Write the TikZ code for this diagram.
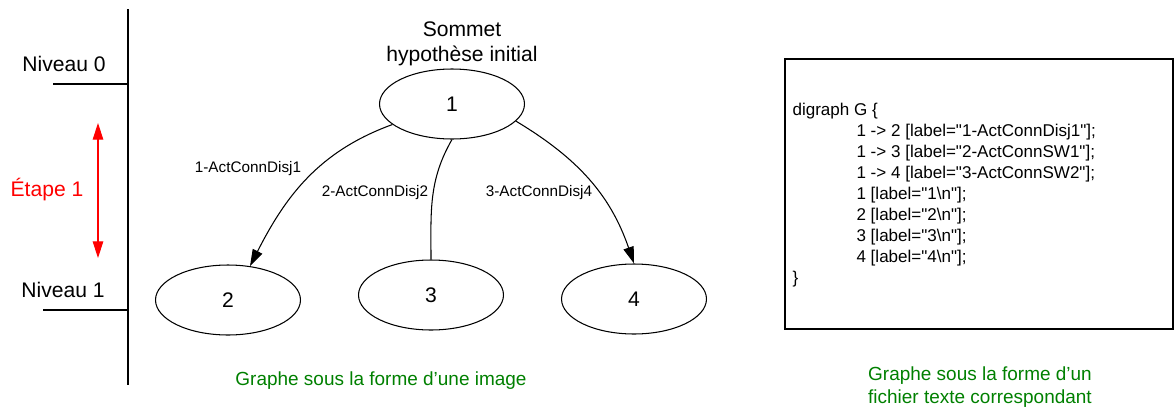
\documentclass[tikz,border=0pt]{standalone}
\usepackage{fontspec}
\setmainfont{Liberation Sans}
\newfontfamily\codefont{Liberation Sans}[Ligatures=TeXOff]
\usepackage{xcolor}
\usetikzlibrary{arrows.meta,shapes.geometric}
\definecolor{EtapeRed}{HTML}{FF0000}
\definecolor{CaptionGreen}{HTML}{008000}

\begin{document}
\begin{tikzpicture}[x=0.02cm,y=0.02cm,line width=0.6pt,
  >={Triangle[length=9.5pt,width=6pt]},
  vertex/.style={draw,ellipse,minimum width=2.9cm,minimum height=1.4cm,inner sep=0pt,
    font=\fontsize{12}{14.4}\selectfont},
  levellabel/.style={font=\fontsize{12}{14.4}\selectfont,inner sep=0pt},
  edgelabel/.style={font=\fontsize{8.7}{10.4}\selectfont,inner sep=0pt},
  codeline/.style={anchor=base west,font=\codefont\fontsize{9.7}{11.6}\selectfont,inner sep=0pt},
  caption/.style={CaptionGreen,align=center,font=\fontsize{10.8}{13}\selectfont,inner sep=0pt}]
  \useasboundingbox (0,0) rectangle (1174,414);
  % niveaux
  \draw (128,405) -- (128,29);
  \draw (53,330) -- (128,330);
  \draw (43,104) -- (128,104);
  \node[levellabel] (niv0) at (64,350) {Niveau 0};
  \node[levellabel] (niv1) at (63,124) {Niveau 1};
  \coordinate (etapetop) at (98,291);
  \coordinate (etapebot) at (98,156);
  \draw[<->,EtapeRed] (etapetop) -- (etapebot);
  \node[levellabel,EtapeRed] (etape) at (47,224) {Étape 1};
  % graphe
  \node[vertex] (n1) at (452,310) {1};
  \node[vertex] (n2) at (228,114) {2};
  \node[vertex] (n3) at (431,119) {3};
  \node[vertex] (n4) at (634,115) {4};
  \node[levellabel,align=center] (sommet) at (462,370) {Sommet\\hypothèse initial};
  \draw[->] (n1.199) to[out=200,in=63] (n2.57);
  \draw (n1.south) to[out=240,in=90] (n3.north);
  \draw[->] (n1.345) to[out=-31,in=109] (n4.north);
  \node[edgelabel] (lab12) at (248,245) {1-ActConnDisj1};
  \node[edgelabel] (lab13) at (375,221) {2-ActConnDisj2};
  \node[edgelabel] (lab14) at (539,221) {3-ActConnDisj4};
  \node[caption] (capimage) at (381,33) {Graphe sous la forme d’une image};
  % fichier texte
  \draw (785,85) rectangle (1173,355);
  \node[codeline] (code0) at (792,299) {digraph G \{};
  \node[codeline] (code1) at (856,278) {1 -> 2 [label="1-ActConnDisj1"];};
  \node[codeline] (code2) at (856,257) {1 -> 3 [label="2-ActConnSW1"];};
  \node[codeline] (code3) at (856,236) {1 -> 4 [label="3-ActConnSW2"];};
  \node[codeline] (code4) at (856,215) {1 [label="1\textbackslash n"];};
  \node[codeline] (code5) at (856,194) {2 [label="2\textbackslash n"];};
  \node[codeline] (code6) at (856,173) {3 [label="3\textbackslash n"];};
  \node[codeline] (code7) at (856,152) {4 [label="4\textbackslash n"];};
  \node[codeline] (code8) at (792,131) {\}};
  \node[caption] (captexte) at (980,27) {Graphe sous la forme d’un\\fichier texte correspondant};
\end{tikzpicture}
\end{document}
